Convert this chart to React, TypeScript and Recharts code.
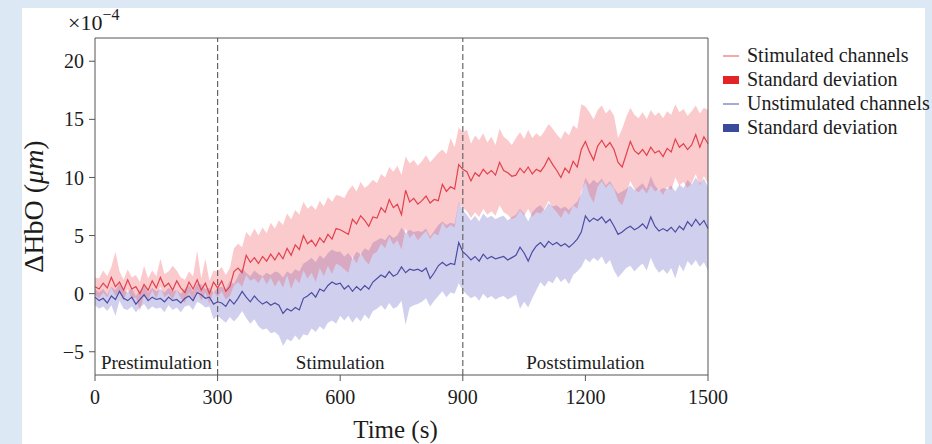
import { ComposedChart, Area, Line, XAxis, YAxis, ReferenceLine, ReferenceArea } from "recharts";

const FONT = '"Liberation Serif", "DejaVu Serif", serif';
const INK = "#1c1c1c";
const AXIS = "#555";

// one sample every 10 s, 0..1500 s
const TIME_STEP = 10;
const X_TICKS = [0, 300, 600, 900, 1200, 1500];
const Y_TICKS = [-5, 0, 5, 10, 15, 20];

const PHASES = [
  { from: 0, to: 300, name: "Prestimulation" },
  { from: 300, to: 900, name: "Stimulation" },
  { from: 900, to: 1500, name: "Poststimulation" },
];

// stimulated channels (x1e-4)
const redMean = [
  0.6, 0.4, 0.9, 0.5, 1.4, 0.6, 1.0, 0.3, 1.2, 0.4,
  0.6, 0.0, 0.8, 0.3, 1.1, 0.5, 1.4, 0.6, 0.9, 0.3,
  1.1, 0.5, 0.1, 1.0, 0.4, 1.2, 0.3, 0.9, 0.0, 1.0,
  0.5, 1.1, 0.2, 0.6, 1.9, 2.2, 1.8, 3.3, 2.7, 3.1,
  2.6, 3.2, 2.8, 3.4, 2.9, 3.5, 3.0, 3.9, 3.3, 4.2,
  3.8, 5.0, 4.3, 4.6, 4.1, 4.8, 4.4, 5.1, 4.7, 5.6,
  5.5, 5.3, 5.1, 6.4, 6.0, 6.7, 6.3, 5.8, 6.6, 6.5,
  7.4, 7.0, 8.1, 7.4, 7.7, 6.8, 8.9, 7.9, 8.2, 7.7,
  8.0, 8.4, 7.8, 8.1, 8.0, 9.4, 8.8, 9.2, 9.0, 11.1,
  10.7, 10.5, 9.7, 10.4, 10.1, 10.7, 10.3, 10.6, 10.2, 11.3,
  10.6, 10.4, 10.1, 10.2, 10.8, 10.4, 10.9, 10.3, 10.7, 10.5,
  11.0, 11.7, 11.1, 10.6, 10.0, 10.8, 10.4, 11.4, 10.9, 12.4,
  13.1, 12.2, 11.5, 12.7, 13.2, 12.6, 13.0, 12.4, 11.3, 10.9,
  12.0, 13.1, 12.3, 12.0, 12.4, 11.9, 12.6, 12.1, 12.3, 11.8,
  12.5, 12.2, 13.3, 12.6, 12.9, 12.4, 12.8, 13.7, 12.6, 13.5,
  12.9,
];
const redHi = [
  1.4, 1.3, 2.0, 1.5, 2.3, 3.6, 1.9, 1.2, 2.1, 1.4,
  1.6, 1.0, 2.4, 1.3, 2.0, 1.5, 3.0, 1.7, 1.9, 2.4,
  2.0, 1.4, 1.2, 1.9, 1.5, 3.7, 1.3, 3.0, 1.1, 2.0,
  1.9, 2.3, 1.6, 2.2, 3.9, 4.3, 4.0, 5.3, 4.9, 5.6,
  5.0, 5.7, 5.2, 6.1, 5.6, 6.3, 5.9, 6.9, 6.4, 7.2,
  6.8, 7.9, 7.3, 7.6, 7.2, 8.0, 7.5, 8.3, 7.9, 8.5,
  8.4, 8.2, 8.9, 9.3, 8.8, 9.6, 9.1, 9.4, 9.8, 9.5,
  10.3, 10.0, 10.9, 10.5, 11.0, 10.2, 11.8, 11.2, 11.5, 11.0,
  11.4, 11.9, 11.3, 11.7, 12.1, 12.4, 12.0, 13.4, 12.6, 14.3,
  13.9, 14.1, 12.9, 13.6, 13.2, 13.8, 13.0, 13.5, 12.8, 14.2,
  13.5, 13.2, 12.8, 13.4, 13.9, 13.3, 14.1, 13.4, 13.8, 13.5,
  14.0, 14.6, 14.2, 13.7, 13.3, 14.0, 13.6, 14.5, 14.2, 16.3,
  16.1, 15.6, 15.0, 15.8, 16.2, 15.5, 15.9, 15.3, 13.4, 14.2,
  15.2, 16.0, 15.4, 15.1, 15.6, 15.0, 15.8, 15.3, 15.6, 15.1,
  15.7, 15.4, 16.3, 15.6, 15.9, 15.3, 15.7, 16.2, 15.5, 16.0,
  15.8,
];
const redLo = [
  -0.1, -0.4, 0.1, -0.3, 0.5, -0.2, 0.2, -0.6, 0.4, -0.5,
  -0.3, -1.5, -0.1, -0.6, 0.3, -0.4, 0.6, -0.3, 0.0, -0.5,
  0.3, -0.4, -0.8, 0.1, -0.5, 0.3, -0.6, 0.1, -0.9, 0.2,
  -0.3, 0.2, -0.5, -0.2, 0.7, 1.0, 0.6, 1.6, 1.1, 1.3,
  0.9, 1.5, 0.8, 1.4, 0.6, 1.2, 0.5, 1.6, 0.4, 1.3,
  0.9, 2.0, 1.3, 1.8, 1.0, 2.2, 1.5, 2.4, 1.7, 2.6,
  2.4, 2.1, 1.8, 3.2, 2.6, 3.5, 2.9, 2.5, 3.4, 3.6,
  4.3, 3.9, 4.9, 4.2, 4.6, 3.8, 5.6, 4.8, 5.2, 4.6,
  5.0, 5.4, 4.7, 5.2, 5.0, 6.1, 5.6, 5.9, 5.7, 7.8,
  7.4, 7.1, 6.5, 7.0, 6.6, 7.3, 6.8, 7.1, 6.7, 7.6,
  7.0, 6.8, 6.4, 6.6, 7.2, 6.7, 7.3, 6.6, 7.0, 6.9,
  7.3, 8.0, 7.4, 7.0, 6.5, 7.2, 6.8, 7.6, 7.3, 8.8,
  9.6, 8.5, 7.8, 9.2, 9.7, 9.1, 9.5, 9.0, 8.0, 7.6,
  8.6, 9.7, 9.0, 8.7, 9.1, 8.6, 9.3, 8.8, 9.0, 8.5,
  9.2, 8.9, 10.0, 9.3, 9.6, 9.1, 9.5, 10.3, 9.3, 10.1,
  9.5,
];

// unstimulated channels (x1e-4)
const blueMean = [
  -0.3, -0.6, -0.4, -0.8, -0.2, -0.5, 0.2, -0.4, -0.6, -0.3,
  -0.9, -0.5, -0.1, -0.6, -0.3, -0.5, -0.4, -0.7, -0.3, -0.6,
  -0.5, -0.8, -0.4, -0.2, -0.6, 0.1, -0.1, -0.4, -0.3, -0.9,
  -0.7, -0.8, -1.1, -0.5, -0.9, -0.4, 0.2, -0.3, -0.7, -0.2,
  -0.6, -0.9, -0.7, -1.0, -0.8, -1.0, -1.7, -1.3, -1.5, -1.2,
  -1.4, -0.4, -0.2, 0.1, -0.3, 0.4, 0.2, 0.7, 1.0, 0.8,
  0.9, 0.4, 0.7, 0.2, 0.6, 0.3, 0.7, 0.4, 1.0, 1.3,
  1.6, 1.4, 1.9, 1.5, 1.7, 2.3, 1.8, 2.1, 2.0, 2.1,
  1.9, 2.2, 1.3, 1.8, 2.4, 2.7, 2.4, 2.6, 2.5, 4.4,
  3.6, 3.3, 2.9, 3.2, 2.8, 3.4, 3.0, 3.2, 3.0, 3.1,
  3.2, 2.9, 3.1, 3.3, 4.0, 3.5, 2.8, 3.6, 4.1, 4.4,
  4.0, 4.5, 4.2, 4.4, 4.1, 4.3, 4.0, 4.3, 4.7, 5.3,
  6.7, 6.2, 6.5, 6.3, 6.6, 6.1, 6.4, 5.8, 5.1, 5.3,
  5.6, 5.8, 5.5, 5.7, 6.0, 5.6, 6.6, 5.8, 5.4, 5.6,
  5.4, 5.7, 5.3, 5.8, 5.5, 6.2, 5.8, 6.4, 5.9, 6.3,
  5.6,
];
const blueHi = [
  0.4, 0.1, 0.4, -0.1, 0.6, 0.3, 0.9, 0.3, 0.1, 0.5,
  -0.2, 0.3, 0.7, 0.1, 0.5, 0.2, 0.4, 0.1, 0.5, 0.2,
  0.3, 0.0, 0.4, 0.7, 0.2, 0.9, 0.8, 0.4, 0.5, 0.1,
  0.5, 0.6, 0.4, 1.1, 0.8, 1.5, 2.2, 1.8, 1.5, 2.0,
  1.7, 1.5, 1.8, 1.6, 1.9, 1.8, 1.4, 1.9, 1.7, 2.1,
  1.9, 2.6, 2.8, 3.1, 2.7, 3.3, 3.0, 3.5, 3.8, 3.6,
  3.6, 3.2, 3.5, 3.0, 3.6, 3.4, 3.9, 3.7, 4.4, 4.6,
  4.8, 4.6, 5.1, 4.8, 5.0, 5.7, 5.2, 5.5, 5.3, 5.4,
  5.3, 5.6, 4.9, 5.4, 5.9, 6.2, 5.9, 6.1, 6.0, 7.9,
  7.2, 6.8, 6.3, 6.7, 6.2, 6.9, 6.5, 6.7, 6.4, 6.6,
  6.7, 6.3, 6.6, 6.8, 7.3, 6.9, 6.2, 7.0, 7.4, 7.6,
  7.2, 7.8, 7.5, 7.6, 7.3, 7.5, 7.2, 7.6, 7.9, 8.6,
  10.0, 9.4, 9.8, 9.5, 9.9, 9.3, 9.7, 9.1, 8.6, 8.8,
  9.0, 9.3, 8.9, 9.2, 9.5, 9.0, 10.1, 9.3, 8.9, 9.1,
  9.0, 9.3, 8.8, 9.4, 9.1, 9.8, 9.4, 10.0, 9.5, 9.9,
  9.2,
];
const blueLo = [
  -1.0, -1.3, -1.1, -1.5, -1.0, -1.9, -0.6, -1.3, -1.4, -1.1,
  -1.6, -1.2, -0.9, -1.4, -1.1, -1.3, -1.2, -1.6, -1.0, -1.4,
  -1.2, -1.6, -1.1, -1.0, -1.4, -0.7, -0.9, -1.2, -1.1, -2.2,
  -1.9, -2.2, -2.5, -2.0, -2.4, -2.0, -1.5, -2.1, -2.6, -2.2,
  -2.8, -3.1, -3.0, -3.4, -3.3, -3.6, -4.5, -3.9, -4.1, -3.6,
  -4.0, -3.5, -3.6, -3.0, -3.3, -2.8, -3.1, -2.5, -2.3, -2.6,
  -1.9, -2.3, -1.9, -2.5, -2.0, -2.4, -1.8, -2.2, -1.5, -1.3,
  -1.0, -1.4, -0.8, -1.3, -1.1, -0.6, -2.7, -1.2, -1.0, -0.9,
  -0.7, -0.4, -1.1, -0.6, -0.2, 0.2, -0.3, 0.1, 0.0, 0.9,
  0.3, -0.1, -0.4, -0.2, -0.6, 0.0, -0.4, -0.2, -0.5, -0.3,
  -0.2, -0.5, -0.3, -0.1, -1.3, -0.7, -1.2, -0.4, 0.3, 1.0,
  0.6, 1.1, 0.9, 1.5, 1.0, 1.3, 0.8, 1.6, 1.9, 2.3,
  3.0, 2.7, 3.1, 2.8, 3.2, 2.5, 2.9, 2.0, 1.4, 1.8,
  2.2, 2.4, 1.9, 2.3, 2.6, 2.0, 3.1, 2.3, 1.8, 2.1,
  1.7, 2.2, 1.3, 2.5, 1.9, 2.8, 2.4, 2.9, 2.3, 2.7,
  2.0,
];

const data = redMean.map((r, i) => ({
  t: i * TIME_STEP,
  red: r,
  blue: blueMean[i],
  redBand: [redLo[i], redHi[i]],
  blueBand: [blueLo[i], blueHi[i]],
}));

const fmtTick = (v: number) => (v < 0 ? `\u2212${-v}` : `${v}`);

function YTitle({ viewBox }: any) {
  const cy = viewBox.y + viewBox.height / 2;
  const cx = 43;
  return (
    <text
      x={cx}
      y={cy}
      transform={`rotate(-90, ${cx}, ${cy})`}
      textAnchor="middle"
      fontFamily={FONT}
      fontSize={28}
      fill={INK}
    >
      ΔHbO (<tspan fontStyle="italic">μm</tspan>)
    </text>
  );
}

export default function App() {
  return (
    <div style={{ position: "absolute", left: 0, top: 0, width: 932, height: 444, background: "#dce8f4", overflow: "hidden" }}>
      <div style={{ position: "absolute", left: 22, top: 8, width: 903, height: 436, background: "#fff" }} />
      <div style={{ position: "absolute", left: 0, top: 0 }}>
        <ComposedChart width={932} height={444} data={data} margin={{ top: 38, right: 224, bottom: 0, left: 0 }}>
          <XAxis
            dataKey="t"
            type="number"
            domain={[0, 1500]}
            ticks={X_TICKS}
            height={69}
            tick={{ fontSize: 20, fill: INK, fontFamily: FONT }}
            tickSize={6}
            tickMargin={9}
            tickLine={{ stroke: AXIS }}
            axisLine={{ stroke: AXIS }}
            label={{ value: "Time (s)", position: "insideBottom", offset: 6, dx: -6, fontSize: 25, fill: INK, fontFamily: FONT }}
          />
          <YAxis
            type="number"
            domain={[-7, 22]}
            ticks={Y_TICKS}
            allowDataOverflow
            width={95}
            tickFormatter={fmtTick}
            tick={{ fontSize: 20, fill: INK, fontFamily: FONT }}
            tickSize={6}
            tickMargin={5}
            tickLine={{ stroke: AXIS }}
            axisLine={{ stroke: AXIS }}
            label={<YTitle />}
          />
          {PHASES.map((p) => (
            <ReferenceArea
              key={p.name}
              x1={p.from}
              x2={p.to}
              y1={-7}
              y2={22}
              fill="none"
              fillOpacity={0}
              strokeOpacity={0}
              label={{ value: p.name, position: "insideBottom", offset: 6, fontSize: 19, fill: INK, fontFamily: FONT }}
            />
          ))}
          <Area dataKey="blueBand" type="linear" fill="#6464c8" fillOpacity={0.3} stroke="none" isAnimationActive={false} />
          <Area dataKey="redBand" type="linear" fill="#f0505a" fillOpacity={0.3} stroke="none" isAnimationActive={false} />
          <Line dataKey="blue" type="linear" stroke="#4b4ca3" strokeWidth={1.2} dot={false} isAnimationActive={false} />
          <Line dataKey="red" type="linear" stroke="#e3414b" strokeWidth={1.2} dot={false} isAnimationActive={false} />
          <ReferenceLine x={300} stroke="#666" strokeWidth={1.2} strokeDasharray="6 3" />
          <ReferenceLine x={900} stroke="#666" strokeWidth={1.2} strokeDasharray="6 3" />
          <ReferenceLine y={22} stroke={AXIS} />
          <ReferenceLine x={1500} stroke={AXIS} />
        </ComposedChart>
      </div>
      <svg width={932} height={444} style={{ position: "absolute", left: 0, top: 0, pointerEvents: "none" }}>
        <text x={68} y={30} fontFamily={FONT} fontSize={22} fill={INK}>
          ×10<tspan dy={-10} fontSize={16}>−4</tspan>
        </text>
        <g fontFamily={FONT} fontSize={20} fill={INK}>
          <line x1={723} x2={739} y1={56} y2={56} stroke="#f07070" strokeWidth={1.2} />
          <text x={747} y={62}>Stimulated channels</text>
          <rect x={723} y={76} width={16} height={8} fill="#e42424" />
          <text x={747} y={86}>Standard deviation</text>
          <line x1={723} x2={739} y1={104} y2={104} stroke="#7070c0" strokeWidth={1.2} />
          <text x={747} y={110}>Unstimulated channels</text>
          <rect x={723} y={124} width={16} height={8} fill="#3a4a9c" />
          <text x={747} y={134}>Standard deviation</text>
        </g>
      </svg>
    </div>
  );
}
